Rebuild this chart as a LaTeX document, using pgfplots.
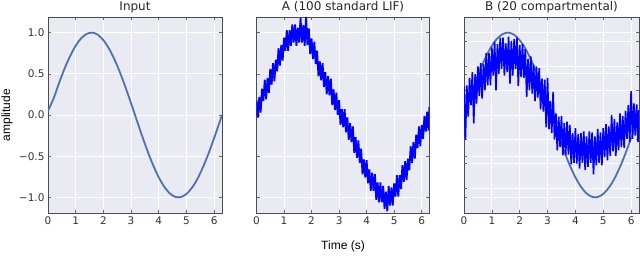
\documentclass[border=0pt]{standalone}
\usepackage{pgfplots}
\usepackage{pgfplotstable}
\pgfplotsset{compat=1.18}
\usepackage{fontspec}
\setmainfont{DejaVu Sans}
\newfontfamily\arial{Liberation Sans}
\definecolor{bgc}{HTML}{EAEAF2}
\definecolor{sinec}{HTML}{4C72B0}
\definecolor{noisec}{HTML}{0000FF}

\pgfplotstableread{
x y
0 0.05
0.2 0.199
0.4 0.389
0.6 0.565
0.8 0.717
1.0 0.841
1.2 0.932
1.4 0.985
1.6 1.0
1.8 0.974
2.0 0.909
2.2 0.808
2.4 0.675
2.6 0.516
2.8 0.335
3.0 0.141
3.2 -0.058
3.4 -0.256
3.6 -0.443
3.8 -0.612
4.0 -0.757
4.2 -0.872
4.4 -0.952
4.6 -0.994
4.8 -0.996
5.0 -0.959
5.2 -0.883
5.4 -0.773
5.6 -0.631
5.8 -0.465
6.0 -0.279
6.2 -0.083
6.283 0.0
}\sinetab

\pgfplotstableread{
x y
0.00 0.18
0.05 -0.03
0.10 0.22
0.15 0.03
0.20 0.32
0.25 0.17
0.30 0.43
0.35 0.19
0.40 0.45
0.45 0.27
0.50 0.56
0.55 0.37
0.60 0.63
0.65 0.41
0.70 0.67
0.75 0.53
0.80 0.81
0.85 0.60
0.90 0.85
0.95 0.66
1.00 0.94
1.05 0.78
1.10 1.03
1.15 0.78
1.20 1.03
1.25 0.84
1.30 1.10
1.35 0.88
1.40 1.10
1.45 0.84
1.50 1.06
1.55 0.88
1.60 1.18
1.65 0.88
1.70 1.09
1.75 0.84
1.80 1.19
1.85 0.85
1.90 1.05
1.95 0.74
2.00 0.93
2.05 0.68
2.10 0.89
2.15 0.62
2.20 0.78
2.25 0.47
2.30 0.65
2.35 0.42
2.40 0.63
2.45 0.34
2.50 0.52
2.55 0.25
2.60 0.47
2.65 0.24
2.70 0.44
2.75 0.12
2.80 0.31
2.85 0.06
2.90 0.27
2.95 0.00
3.00 0.18
3.05 -0.12
3.10 0.07
3.15 -0.15
3.20 0.07
3.25 -0.21
3.30 -0.03
3.35 -0.30
3.40 -0.10
3.45 -0.33
3.50 -0.14
3.55 -0.46
3.60 -0.27
3.65 -0.52
3.70 -0.31
3.75 -0.58
3.80 -0.41
3.85 -0.72
3.90 -0.54
3.95 -0.76
4.00 -0.55
4.05 -0.83
4.10 -0.66
4.15 -0.92
4.20 -0.70
4.25 -0.92
4.30 -0.72
4.35 -1.03
4.40 -0.82
4.45 -1.06
4.50 -0.82
4.55 -1.06
4.60 -0.86
4.65 -1.14
4.70 -0.93
4.75 -1.17
4.80 -0.86
4.85 -1.10
4.90 -0.88
4.95 -1.10
5.00 -0.83
5.05 -0.99
5.10 -0.73
5.15 -0.99
5.20 -0.73
5.25 -0.90
5.30 -0.61
5.35 -0.81
5.40 -0.56
5.45 -0.79
5.50 -0.53
5.55 -0.67
5.60 -0.38
5.65 -0.58
5.70 -0.33
5.75 -0.53
5.80 -0.24
5.85 -0.40
5.90 -0.14
5.95 -0.38
6.00 -0.12
6.05 -0.29
6.10 -0.01
6.15 -0.20
6.20 0.04
6.25 -0.19
6.28 0.10
}\noiseA

\pgfplotstableread{
x y
0.00 0.34
0.05 -0.30
0.10 0.36
0.15 -0.02
0.20 0.45
0.25 0.12
0.30 0.52
0.35 -0.10
0.40 0.50
0.45 0.14
0.50 0.59
0.55 0.23
0.60 0.63
0.65 0.20
0.70 0.62
0.75 0.30
0.80 0.75
0.85 0.36
0.90 0.75
0.95 0.36
1.00 0.82
1.05 0.48
1.10 0.89
1.15 0.30
1.20 0.86
1.25 0.50
1.30 0.94
1.35 0.56
1.40 0.94
1.45 0.48
1.50 0.87
1.55 0.52
1.60 0.95
1.65 0.38
1.70 0.90
1.75 0.48
1.80 0.92
1.85 0.56
1.90 0.94
1.95 0.35
2.00 0.85
2.05 0.46
2.10 0.86
2.15 0.45
2.20 0.80
2.25 0.22
2.30 0.68
2.35 0.30
2.40 0.71
2.45 0.26
2.50 0.61
2.55 0.17
2.60 0.59
2.65 0.21
2.70 0.57
2.75 0.07
2.80 0.44
2.85 0.04
2.90 0.43
2.95 -0.15
3.00 0.45
3.05 -0.17
3.10 0.17
3.15 -0.22
3.20 0.28
3.25 -0.30
3.30 0.02
3.35 -0.43
3.40 -0.02
3.45 -0.39
3.50 -0.01
3.55 -0.49
3.60 -0.10
3.65 -0.49
3.70 -0.08
3.75 -0.48
3.80 -0.12
3.85 -0.60
3.90 -0.22
3.95 -0.58
4.00 -0.16
4.05 -0.59
4.10 -0.23
4.15 -0.65
4.20 -0.22
4.25 -0.58
4.30 -0.20
4.35 -0.67
4.40 -0.26
4.45 -0.63
4.50 -0.20
4.55 -0.58
4.60 -0.21
4.65 -0.72
4.70 -0.26
4.75 -0.61
4.80 -0.17
4.85 -0.58
4.90 -0.21
4.95 -0.61
5.00 -0.16
5.05 -0.51
5.10 -0.11
5.15 -0.55
5.20 -0.14
5.25 -0.50
5.30 0.00
5.35 -0.44
5.40 -0.05
5.45 -0.50
5.50 -0.09
5.55 -0.43
5.60 0.02
5.65 -0.39
5.70 -0.01
5.75 -0.40
5.80 0.05
5.85 -0.29
5.90 0.12
5.95 -0.33
6.00 0.29
6.05 -0.29
6.10 0.14
6.15 -0.25
6.20 0.13
6.25 -0.33
6.28 0.06
}\noiseB

\pgfplotsset{
  panel/.style={
    scale only axis, height=196pt,
    anchor=south west,
    xmin=0, xmax=6.2832, ymin=-1.19, ymax=1.19,
    axis background/.style={fill=bgc},
    grid=major, major grid style={white, line width=1pt},
    xtick={0,1,2,3,4,5,6}, ytick={-1,-0.5,0,0.5,1},
    /pgf/number format/assume math mode=true,
    tick label style={font=\fontsize{10.5}{11}\selectfont, text=black!80},
    axis line style={black!70, line width=0.8pt},
    tick style={black!60, line width=0.6pt}, major tick length=3pt, tick align=inside,
    title style={font=\fontsize{12}{13}\selectfont, text=black!85,
      at={([yshift=4pt]rel axis cs:0.5,1)}, anchor=center},
    xlabel style={font=\arial\fontsize{12}{13}\selectfont,
      at={([yshift=-33pt]rel axis cs:0.5,0)}, anchor=center},
    ylabel style={font=\arial\fontsize{12}{13}\selectfont,
      at={([xshift=-41pt]rel axis cs:0,0.5)}, anchor=center},
  }
}

\begin{document}
\begin{tikzpicture}
\useasboundingbox (0,0) rectangle (640pt,255pt);
\begin{axis}[panel, at={(48pt,42pt)}, width=174pt, title={Input}, ylabel={amplitude},
  yticklabels={−1.0,−0.5,0.0,0.5,1.0}]
\addplot[sinec, line width=1.8pt, smooth] table[x=x,y=y] {\sinetab};
\end{axis}
\begin{axis}[panel, at={(256.5pt,42pt)}, width=173pt, title={A (100 standard LIF)},
  xlabel={Time (s)}, yticklabels={}]
\addplot[noisec, line width=1.8pt, line join=bevel] table[x=x,y=y] {\noiseA};
\end{axis}
\begin{axis}[panel, at={(464pt,42pt)}, width=175pt, title={B (20 compartmental)},
  yticklabels={},
  extra y ticks={-0.89,-0.59,-0.30,0.30,0.59,0.89}, extra y tick labels={},
  extra y tick style={grid=major, major grid style={white, line width=0.8pt}}]
\addplot[sinec, line width=1.8pt, smooth] table[x=x,y=y] {\sinetab};
\addplot[noisec, line width=1.6pt, line join=bevel] table[x=x,y=y] {\noiseB};
\end{axis}
\end{tikzpicture}
\end{document}
